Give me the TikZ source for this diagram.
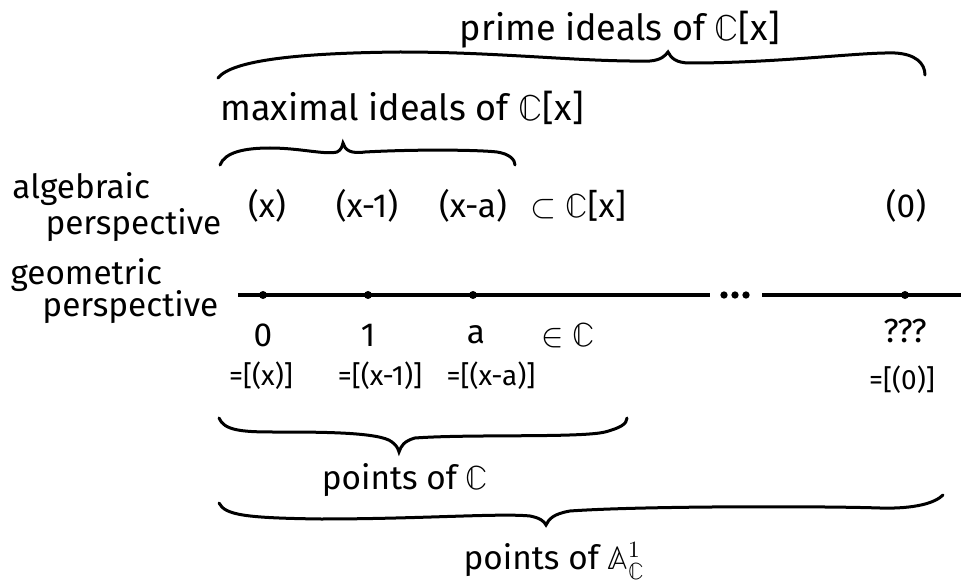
\documentclass[tikz,border=0pt]{standalone}
\usepackage{unicode-math}
\setmainfont{Fira Sans}
\setmathfont{Latin Modern Math}
\tikzset{every picture/.style={line width=0.75pt}}
\tikzset{
  hand/.style={font=\fontsize{25}{28}\selectfont, inner sep=0pt},
  handbig/.style={font=\fontsize{27}{30}\selectfont, inner sep=0pt},
  handsmall/.style={font=\fontsize{21}{24}\selectfont, inner sep=0pt},
  ptdot/.style={circle, fill, inner sep=0pt, minimum size=6pt},
  bracepath/.style={line width=2.25pt, line cap=round}
}

\begin{document}
\begin{tikzpicture}[x=0.75pt,y=0.75pt,yscale=-1,xscale=1]
\path [use as bounding box] (0,0) rectangle (961,588);

%Shape: Curve [brace over prime ideals]
\draw [bracepath] (218,78) .. controls (232,60) and (300,53) .. (400,52) .. controls (500,52) and (580,62) .. (650,61) .. controls (661,60) and (665,56) .. (668,52) .. controls (671,58) and (676,63) .. (690,63) .. controls (780,63) and (860,52) .. (895,53) .. controls (915,54) and (925,63) .. (925,75) ;
%Shape: Curve [brace over maximal ideals]
\draw [bracepath] (220,165) .. controls (225,152) and (245,148) .. (270,148) .. controls (300,148) and (325,155) .. (337,152) .. controls (341,150) and (342,147) .. (343,143) .. controls (345,150) and (350,154) .. (365,152) .. controls (420,149) and (480,150) .. (497,152) .. controls (510,154) and (515,160) .. (515,165) ;
%Shape: Curve [brace under points of C]
\draw [bracepath] (219,418) .. controls (224,430) and (240,432) .. (273,432) .. controls (320,432) and (380,432) .. (392,442) .. controls (396,445) and (398,448) .. (399,452) .. controls (401,446) and (404,441) .. (415,438) .. controls (470,434) and (580,438) .. (605,432) .. controls (620,428) and (627,424) .. (627,418) ;
%Shape: Curve [brace under points of A1]
\draw [bracepath] (219,503) .. controls (225,515) and (245,518) .. (321,519) .. controls (420,519) and (500,513) .. (530,516) .. controls (540,518) and (544,521) .. (546,525) .. controls (549,519) and (553,514) .. (570,511) .. controls (640,506) and (820,506) .. (880,508) .. controls (915,509) and (935,503) .. (943,495) ;

%Shape: Line [number line]
\coordinate (lineL) at (238,295);
\coordinate (gapL) at (710,295);
\coordinate (gapR) at (762,295);
\coordinate (lineR) at (961,295);
\draw [line width=2.25pt] (lineL) -- (gapL) ;
\draw [line width=2.25pt] (gapR) -- (lineR) ;
\node [ptdot] (pzero) at (263,295) {};
\node [ptdot] (pone) at (368,295) {};
\node [ptdot] (pa) at (473,295) {};
\node [ptdot] (pgen) at (905,295) {};
\node [ptdot, minimum size=5.5pt] (dotA) at (724,295) {};
\node [ptdot, minimum size=5.5pt] (dotB) at (735,295) {};
\node [ptdot, minimum size=5.5pt] (dotC) at (746,295) {};

% Text Node
\node [handbig] (prime) at (620,30) {prime ideals of $\mathbb{C}$[x]};
% Text Node
\node [handbig] (maximal) at (402,108) {maximal ideals of $\mathbb{C}$[x]};
% Text Node
\node [hand, anchor=west] (alg) at (12,189) {algebraic};
% Text Node
\node [hand, anchor=west] (algper) at (45,225) {perspective};
% Text Node
\node [hand, anchor=west] (geo) at (10,275) {geometric};
% Text Node
\node [hand, anchor=west] (geoper) at (42,307) {perspective};

% Text Node
\node [hand] (idx) at (267,206) {(x)};
% Text Node
\node [hand] (idxone) at (367,206) {(x-1)};
% Text Node
\node [hand] (idxa) at (473,206) {(x-a)};
% Text Node
\node [hand, anchor=west] (ring) at (530,206) {$\subset$ $\mathbb{C}$[x]};
% Text Node
\node [hand] (idzero) at (906,206) {(0)};

% Text Node
\node [hand] (lzero) at (263,335) {0};
% Text Node
\node [hand] (lone) at (368,335) {1};
% Text Node
\node [hand] (la) at (476,335) {a};
% Text Node
\node [hand, anchor=west] (inC) at (541,335) {$\in\mathbb{C}$};
% Text Node
\node [hand] (lgen) at (905,331) {???};

% Text Node
\node [handsmall] (eqzero) at (261,376) {=[(x)]};
% Text Node
\node [handsmall] (eqone) at (380,376) {=[(x-1)]};
% Text Node
\node [handsmall] (eqa) at (491,376) {=[(x-a)]};
% Text Node
\node [handsmall] (eqgen) at (902,380) {=[(0)]};

% Text Node
\node [hand] (ptsC) at (405,480) {points of $\mathbb{C}$};
% Text Node
\node [hand] (ptsA) at (554,561) {points of $\mathbb{A}^1_{\mathbb{C}}$};

\end{tikzpicture}
\end{document}
